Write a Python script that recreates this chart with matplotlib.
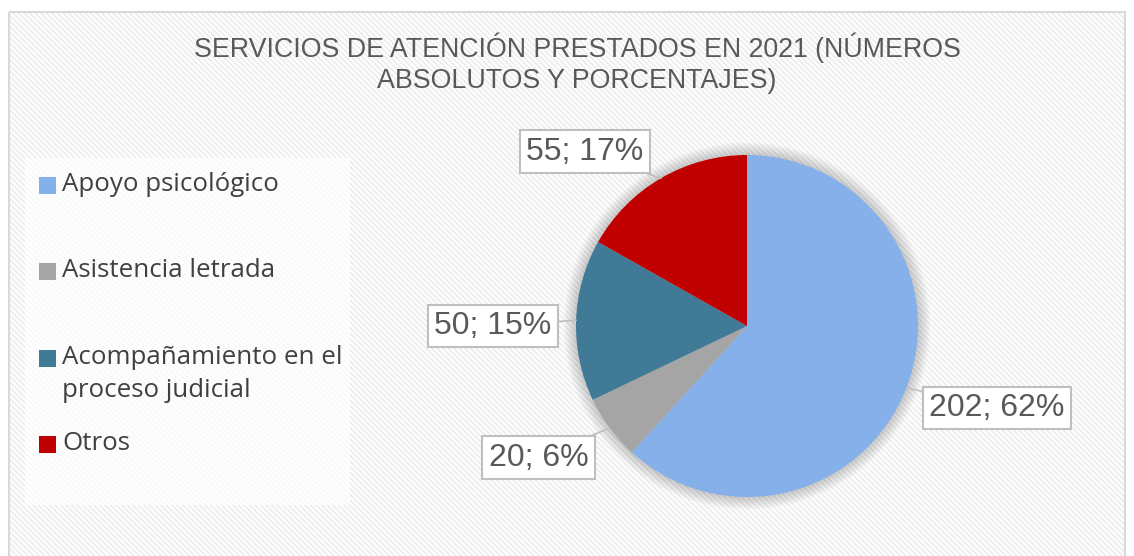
import matplotlib
matplotlib.use("Agg")
import matplotlib.pyplot as plt
from matplotlib.patches import Rectangle, Circle
import math

#########################
# DATA
CATEGORIES = ["Apoyo psicológico", "Asistencia letrada",
              "Acompañamiento en el\nproceso judicial", "Otros"]
VALUES = [202, 20, 50, 55]
PERCENTS = [62, 6, 15, 17]
COLORS = ["#85B0EA", "#A5A5A5", "#417A96", "#C00000"]
TITLE = "SERVICIOS DE ATENCIÓN PRESTADOS EN 2021 (NÚMEROS\nABSOLUTOS Y PORCENTAJES)"

# label box centres in pie-axes units (radius = 1)
LABEL_POS = [(1.46, -0.48), (-1.22, -0.77), (-1.485, 0.0), (-0.95, 1.02)]
# legend rows (pixel y of first text line)
LEGEND_Y = [185, 271, 358, 444]

#########################
# LAYOUT
W, H = 1134, 556
CX, CY, R = 747, 326, 171
TEXT_GREY = "#595959"

plt.rcParams["hatch.color"] = "#EDEDED"
plt.rcParams["hatch.linewidth"] = 1.3

fig = plt.figure(figsize=(W / 100, H / 100), dpi=100)
fig.patch.set_facecolor("white")

# background axes in pixel coords
bg = fig.add_axes([0, 0, 1, 1], zorder=-1)
bg.set_xlim(0, W)
bg.set_ylim(H, 0)
bg.axis("off")
bg.add_patch(Rectangle((9, 12), 1116, H, facecolor="white", edgecolor="none"))
bg.add_patch(Rectangle((9, 12), 1116, H, facecolor="none", edgecolor="#EDEDED",
                       hatch="\\" * 6, linewidth=0))
bg.add_patch(Rectangle((9, 12), 1116, H, facecolor="none", edgecolor="#D9D9D9",
                       linewidth=1.5))
# legend panel (lighter)
bg.add_patch(Rectangle((25, 158), 325, 347, facecolor="white", alpha=0.7,
                       edgecolor="none"))

bg.text(577, 63, TITLE, ha="center", va="center", fontsize=19.3,
        color=TEXT_GREY, family="Liberation Sans", linespacing=1.25)

# legend drawn by hand
for cat, col, y in zip(CATEGORIES, COLORS, LEGEND_Y):
    bg.add_patch(Rectangle((39, y - 8), 17, 17, facecolor=col, edgecolor="none"))
    bg.text(62, y - 13, cat, ha="left", va="top", fontsize=18.6,
            color="#404040", family="Open Sans", linespacing=1.4)

ax = fig.add_axes([(CX - R) / W, (H - CY - R) / H, 2 * R / W, 2 * R / H])

# soft glow round the pie
for k in range(8):
    ax.add_patch(Circle((0, 0), 1.0 + 0.009 * (k + 1), facecolor="#000000",
                        alpha=0.022, edgecolor="none", zorder=0, clip_on=False))

wedges, _ = ax.pie(VALUES, colors=COLORS, startangle=90, counterclock=False,
                   radius=1, wedgeprops=dict(linewidth=0, zorder=2))
ax.set_xlim(-1, 1)
ax.set_ylim(-1, 1)
ax.set_aspect("equal")
ax.axis("off")

for w, v, p, pos in zip(wedges, VALUES, PERCENTS, LABEL_POS):
    mid = math.radians((w.theta1 + w.theta2) / 2)
    edge = (math.cos(mid), math.sin(mid))
    ax.annotate(f"{v}; {p}%", xy=edge, xytext=pos, ha="center", va="center",
                fontsize=23, color=TEXT_GREY, family="Liberation Sans",
                annotation_clip=False, zorder=5,
                bbox=dict(boxstyle="square,pad=0.2", facecolor="white",
                          edgecolor="#BFBFBF", linewidth=1.5),
                arrowprops=dict(arrowstyle="-", color="#BFBFBF", linewidth=1.2,
                                shrinkA=0, shrinkB=0))

plt.savefig("out.png", dpi=100)
